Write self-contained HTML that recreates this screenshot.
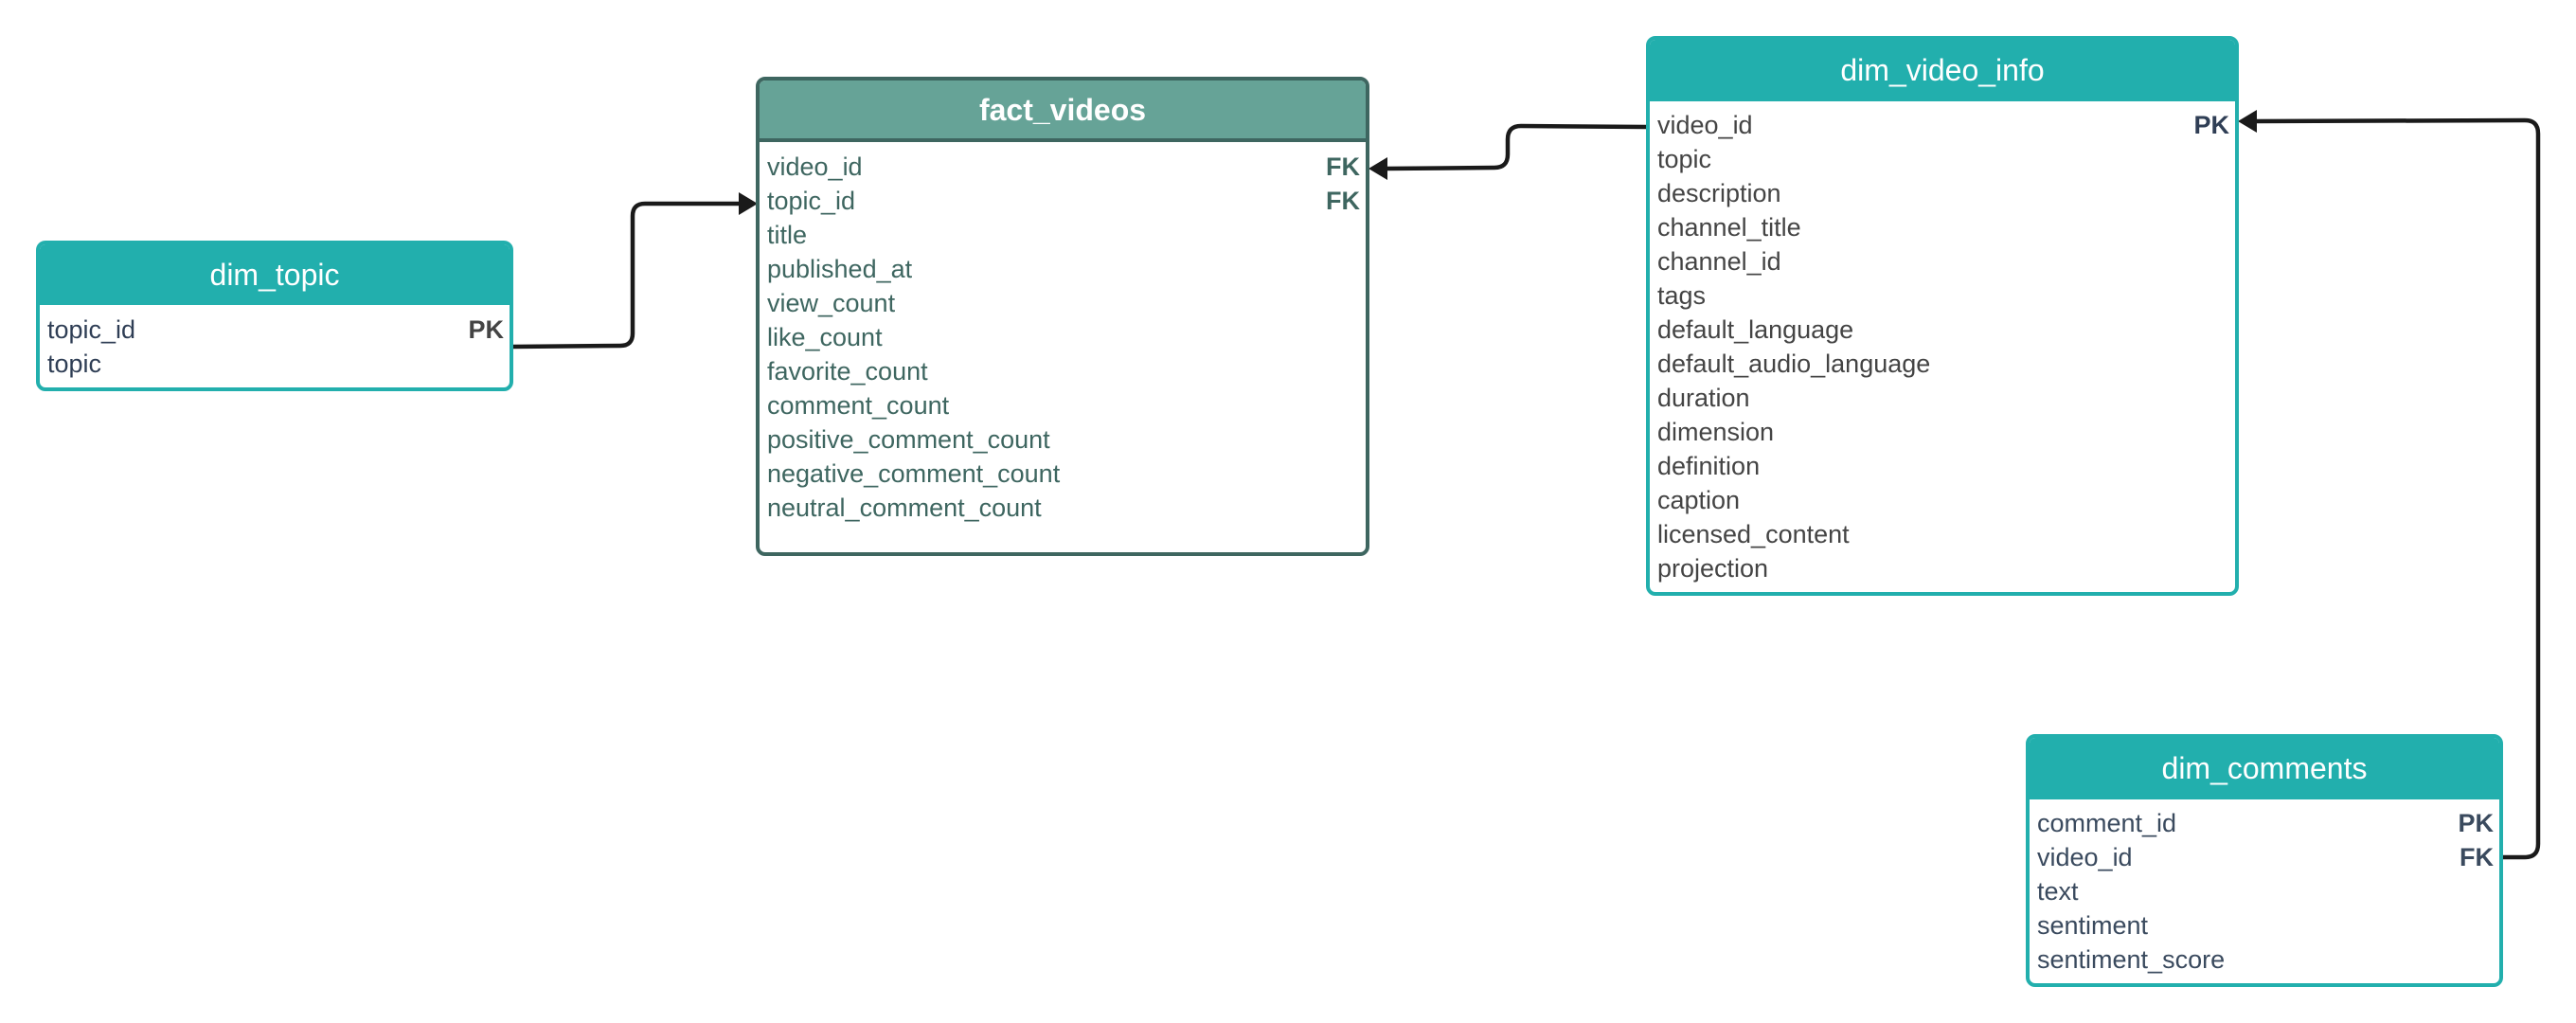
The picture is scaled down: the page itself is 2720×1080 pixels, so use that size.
<!DOCTYPE html>
<html><head><meta charset="utf-8"><style>
body{margin:0;width:2720px;height:1080px;background:#fff;position:relative;overflow:hidden;font-family:"Liberation Sans",sans-serif}
.t{position:absolute;box-sizing:border-box;border:4px solid #22AFAD;border-radius:10px;background:#fff;overflow:hidden}
.h{background:#22AFAD;color:#fff;text-align:center;font-size:32px;box-sizing:border-box}
.r{position:relative;height:36px;line-height:36px;font-size:27px;padding-left:8px}
.k{position:absolute;right:6px;top:0;font-weight:bold}
</style></head><body>
<svg width="2720" height="1080" style="position:absolute;left:0;top:0" fill="none" stroke="#1a1a1a" stroke-width="4.5">
<path d="M541 366 L655 365 Q668 365 668 352 L668 228 Q668 215 681 215 L785 215"/>
<polygon points="800,215 780,203 780,227" fill="#1a1a1a" stroke="none"/>
<path d="M1738 134 L1606 133 Q1592 133 1592 147 L1592 163 Q1592 177 1578 177 L1462 178"/>
<polygon points="1445,178 1465,166 1465,190" fill="#1a1a1a" stroke="none"/>
<path d="M2642 905 L2666 905 Q2680 905 2680 891 L2680 141 Q2680 127 2666 127 L2380 128"/>
<polygon points="2363,128 2383,116 2383,140" fill="#1a1a1a" stroke="none"/>
</svg>

<div class="t" style="left:38px;top:254px;width:504px;height:159px;color:#2F3E55">
<div class="h" style="height:64px;line-height:64px">dim_topic</div>
<div style="height:8px"></div>
<div class="r">topic_id<span class="k" style="color:#444">PK</span></div>
<div class="r">topic</div>
</div>

<div class="t" style="left:798px;top:81px;width:648px;height:506px;border-color:#3E6660;color:#3E6660">
<div class="h" style="height:65px;line-height:62px;background:#66A397;border-bottom:4px solid #3E6660;font-weight:bold">fact_videos</div>
<div style="height:8px"></div>
<div class="r">video_id<span class="k">FK</span></div>
<div class="r">topic_id<span class="k">FK</span></div>
<div class="r">title</div>
<div class="r">published_at</div>
<div class="r">view_count</div>
<div class="r">like_count</div>
<div class="r">favorite_count</div>
<div class="r">comment_count</div>
<div class="r">positive_comment_count</div>
<div class="r">negative_comment_count</div>
<div class="r">neutral_comment_count</div>
</div>

<div class="t" style="left:1738px;top:38px;width:626px;height:591px;color:#444">
<div class="h" style="height:65px;line-height:65px">dim_video_info</div>
<div style="height:7px"></div>
<div class="r">video_id<span class="k" style="color:#2F3E55">PK</span></div>
<div class="r">topic</div>
<div class="r">description</div>
<div class="r">channel_title</div>
<div class="r">channel_id</div>
<div class="r">tags</div>
<div class="r">default_language</div>
<div class="r">default_audio_language</div>
<div class="r">duration</div>
<div class="r">dimension</div>
<div class="r">definition</div>
<div class="r">caption</div>
<div class="r">licensed_content</div>
<div class="r">projection</div>
</div>

<div class="t" style="left:2139px;top:775px;width:504px;height:267px;color:#3A4A5E">
<div class="h" style="height:65px;line-height:65px">dim_comments</div>
<div style="height:7px"></div>
<div class="r">comment_id<span class="k">PK</span></div>
<div class="r">video_id<span class="k">FK</span></div>
<div class="r">text</div>
<div class="r">sentiment</div>
<div class="r">sentiment_score</div>
</div>
</body></html>
